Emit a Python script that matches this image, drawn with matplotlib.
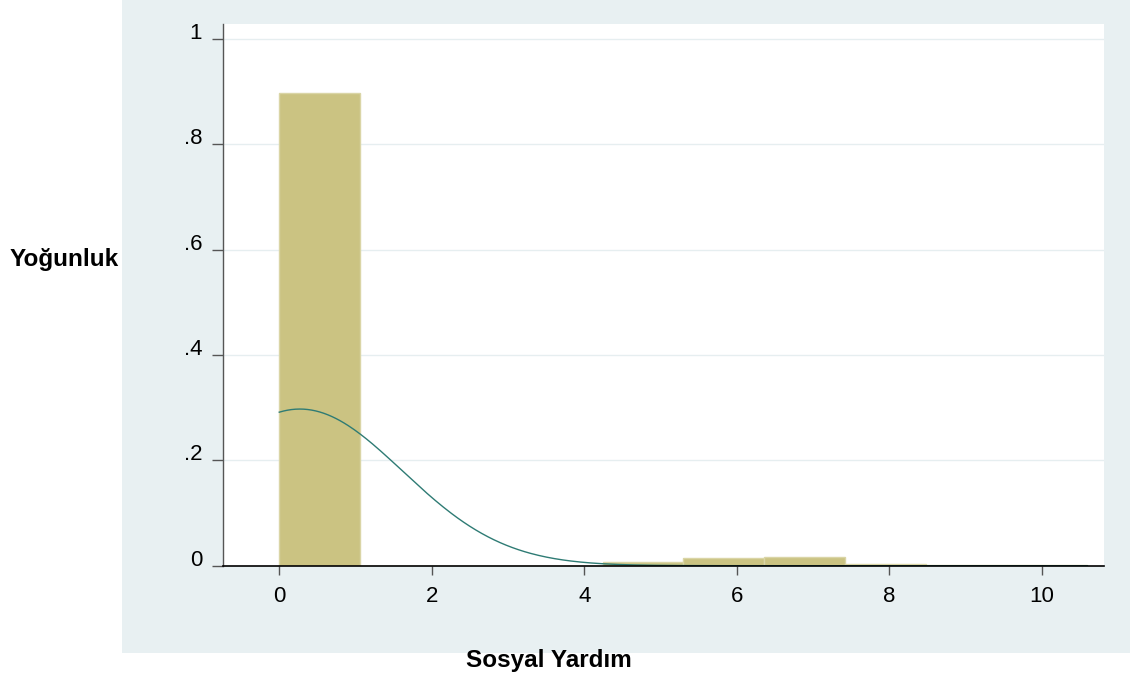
import numpy as np
import matplotlib
matplotlib.use("Agg")
import matplotlib.pyplot as plt
from matplotlib.patches import Rectangle

plt.rcParams['font.family'] = ['Liberation Sans', 'DejaVu Sans']

# ==================== Data ====================

BIN_START = 0.0
BIN_WIDTH = 1.06
DENSITY   = [0.898, 0.0, 0.0, 0.0, 0.007, 0.0153, 0.0165, 0.003, 0.001, 0.001]

# fitted normal overlay
NORMAL_MEAN = 0.27
NORMAL_SD   = 1.342
DATA_MIN, DATA_MAX = 0.0, 10.6

X_TICKS  = [0, 2, 4, 6, 8, 10]
Y_TICKS  = [0, 0.2, 0.4, 0.6, 0.8, 1.0]
Y_LABELS = ['0', '.2', '.4', '.6', '.8', '1']

X_TITLE = 'Sosyal Yardım'
Y_TITLE = 'Yoğunluk'

# ==================== Style ====================

W, H = 1135, 679
PANEL  = '#E8F0F2'
BAR    = '#CBC382'
BAR_EDGE = '#DAD5A6'
CURVE  = '#2E7B74'
GRID   = '#E6EEF0'


def px(x, y):
    """Pixel position (from top-left) to figure fraction."""
    return x / W, 1 - y / H


fig = plt.figure(figsize=(W / 100, H / 100), dpi=100)
fig.patch.set_facecolor('white')

# graph region background, kept behind the axes
x0, y0 = px(122, 653)
x1, y1 = px(1130, 0)
fig.add_artist(Rectangle((x0, y0), x1 - x0, y1 - y0, transform=fig.transFigure,
                         facecolor=PANEL, edgecolor='none', zorder=-10))

left, bottom = px(223, 565.7)
right, top = px(1104, 24)
ax = fig.add_axes([left, bottom, right - left, top - bottom])
ax.set_zorder(1)
ax.set_facecolor('white')

edges = BIN_START + BIN_WIDTH * np.arange(len(DENSITY))
ax.bar(edges, DENSITY, width=BIN_WIDTH, align='edge', color=BAR,
       edgecolor=BAR_EDGE, linewidth=1.0, zorder=2)

xs = np.linspace(DATA_MIN, DATA_MAX, 400)
pdf = np.exp(-0.5 * ((xs - NORMAL_MEAN) / NORMAL_SD) ** 2) / (NORMAL_SD * np.sqrt(2 * np.pi))
ax.plot(xs, pdf, color=CURVE, linewidth=1.0, zorder=3)

ax.set_xlim(-0.738, 10.817)
ax.set_ylim(0, 1.028)

ax.set_yticks(Y_TICKS)
ax.set_yticklabels(Y_LABELS)
ax.set_xticks(X_TICKS)
ax.set_xticklabels([str(t) for t in X_TICKS])

for y in Y_TICKS[1:]:
    ax.axhline(y, color=GRID, linewidth=1.0, zorder=1)

for side in ('top', 'right'):
    ax.spines[side].set_visible(False)
ax.spines['bottom'].set_color('black')
ax.spines['bottom'].set_linewidth(1.2)
ax.spines['bottom'].set_zorder(4)
ax.spines['left'].set_color('#555555')
ax.spines['left'].set_linewidth(1.0)

ax.tick_params(axis='x', direction='out', length=6.5, width=1.0, color='#555555',
               labelsize=16, pad=8)
ax.tick_params(axis='y', direction='out', length=8, width=1.0, color='#555555',
               labelsize=16, pad=7)
for lbl in ax.get_yticklabels():
    lbl.set_verticalalignment('baseline')

tx, ty = px(119, 266)
fig.text(tx, ty, Y_TITLE, ha='right', va='baseline', fontsize=17.5, fontweight='bold')
tx, ty = px(548.5, 667)
fig.text(tx, ty, X_TITLE, ha='center', va='baseline', fontsize=17.5, fontweight='bold')

fig.savefig('out.png', dpi=100, facecolor='white')
